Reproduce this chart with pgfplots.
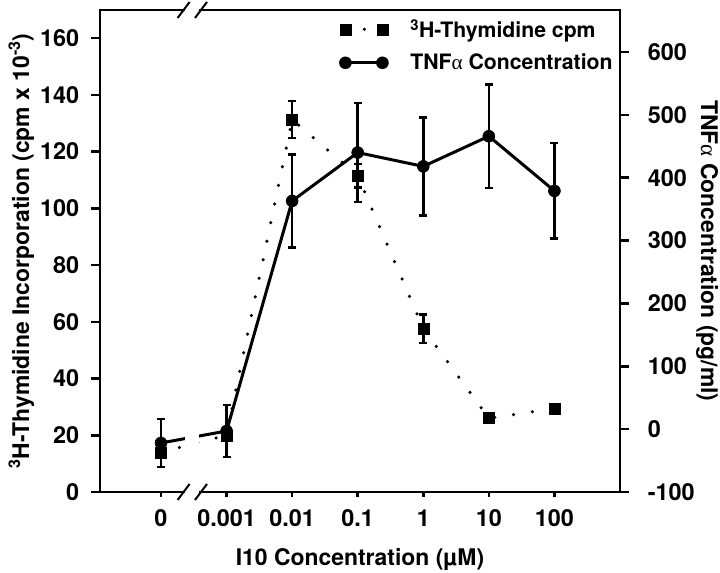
\documentclass[border=0pt]{standalone}
\usepackage{fontspec}
\setmainfont{TeX Gyre Heros}
\newfontfamily\greekf{Liberation Serif}
\usepackage{pgfplots}
\usepackage{pgfplotstable}
\pgfplotsset{compat=1.18}

\pgfplotstableread{
x  y     e
0  14    2
1  20    2
2  131.3 6.6
3  111.5 4.2
4  57.6  5.0
5  26.0  1.0
6  29.4  0.5
}\thymidine

\pgfplotstableread{
x  y    e
0  -22  38
1  -3   41
2  363  74
3  440  79
4  418  78
5  466  82
6  379  76
}\tnf

\begin{document}
\begin{tikzpicture}
\pgfplotsset{
  every axis/.append style={
    scale only axis, width=520bp, height=482bp,
    xmin=-0.93, xmax=7.0,
    /pgf/number format/assume math mode=true,
    tick label style={font=\bfseries\fontsize{23.5}{23.5}\selectfont},
    axis line style={line width=2.8bp},
    tick align=outside,
    ytick style={line width=2.5bp, black, /pgfplots/major tick length=9bp},
    xtick style={line width=2.5bp, black, /pgfplots/major tick length=5bp},
  },
}
\begin{axis}[
  ymin=0, ymax=169.9,
  ytick={0,20,...,160},
  xtick={0,...,6},
  xticklabels={0,0.001,0.01,0.1,1,10,100},
  ytick pos=left, xtick pos=bottom,
  yticklabel style={xshift=-13bp},
  xticklabel style={yshift=-10bp},
  xlabel={I10 Concentration (µM)},
  ylabel={\textsuperscript{3}H-Thymidine Incorporation (cpm x 10\textsuperscript{-3})},
  every axis y label/.style={at={(axis description cs:-0.1365,0.5)}, anchor=base, rotate=90,
    font=\bfseries\fontsize{23}{27}\selectfont},
  every axis x label/.style={at={(axis description cs:0.5,-0.1535)}, anchor=base,
    font=\bfseries\fontsize{23}{27}\selectfont},
]
\coordinate (SW) at (rel axis cs:0,0);
\coordinate (NE) at (rel axis cs:1,1);
\addplot[black, line width=3.5bp, dash pattern=on 0bp off 19bp, line cap=round,
  mark=square*, mark size=5.5bp, mark options={solid, line width=0.5bp},
  error bars/.cd, y dir=both, y explicit,
  error bar style={line width=2.5bp, solid, line cap=butt},
  error mark options={rotate=90, mark size=4bp, line width=2.5bp}]
  table[x=x, y=y, y error=e] {\thymidine};
\end{axis}

\begin{axis}[
  ymin=-100, ymax=666.8,
  ytick={-100,0,...,600},
  axis x line=none,
  axis y line*=right,
  ytick pos=right,
  yticklabel style={xshift=20bp},
  clip=false,
  ylabel={TNF{\greekf\mdseries α} Concentration (pg/ml)},
  every axis y label/.style={at={(axis description cs:1.156,0.5)}, anchor=base, rotate=-90,
    font=\bfseries\fontsize{23}{27}\selectfont},
  legend style={at={(axis description cs:0.99,0.985)}, anchor=north east,
    draw=none, fill=none, font=\bfseries\fontsize{21.3}{21.3}\selectfont,
    row sep=11bp, inner sep=0pt,
    /tikz/every odd column/.append style={column sep=20bp}},
  legend cell align=left,
  legend image code/.code={\draw[#1] plot coordinates {(0bp,0bp) (37bp,0bp)};},
]
\addlegendimage{black, line width=3.5bp, dash pattern=on 0bp off 19bp, line cap=round,
  mark=square*, mark size=5.5bp, mark options={solid, line width=0.5bp}}
\addlegendentry{\textsuperscript{3}H-Thymidine cpm}
\addplot[black, line width=3bp, mark=*, mark size=6bp, mark options={line width=0.5bp},
  error bars/.cd, y dir=both, y explicit,
  error bar style={line width=2.5bp, line cap=butt},
  error mark options={rotate=90, mark size=4bp, line width=2.5bp}]
  table[x=x, y=y, y error=e] {\tnf};
\addlegendentry{TNF{\greekf\mdseries α} Concentration}
% axis break
\fill[white] (axis cs:0.37,-112) rectangle (axis cs:0.58,680);
\draw[line width=2bp] ([shift={(-6bp,-8bp)}]axis cs:0.345,-100) -- ++(12bp,16bp);
\draw[line width=2bp] ([shift={(-6bp,-8bp)}]axis cs:0.61,-100) -- ++(12bp,16bp);
\draw[line width=2bp] ([shift={(-6bp,-8bp)}]axis cs:0.345,666.8) -- ++(12bp,16bp);
\draw[line width=2bp] ([shift={(-6bp,-8bp)}]axis cs:0.61,666.8) -- ++(12bp,16bp);
\end{axis}
\pgfresetboundingbox
\path ([shift={(-100bp,-81bp)}]SW) rectangle ([shift={(100bp,10bp)}]NE);
\end{tikzpicture}
\end{document}
